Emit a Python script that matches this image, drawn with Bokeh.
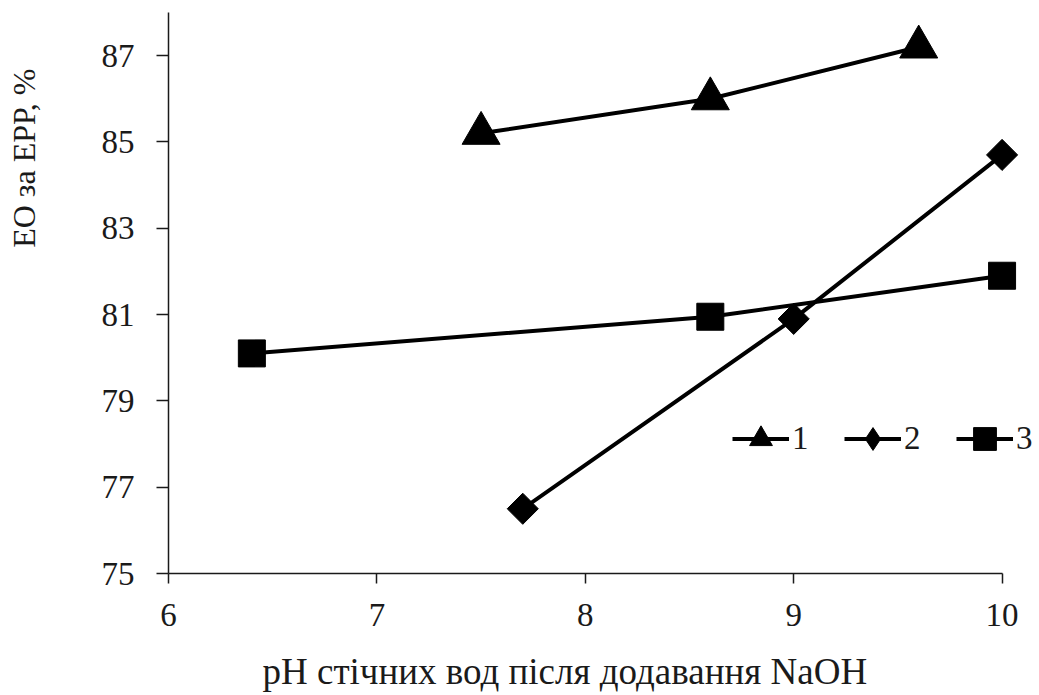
from bokeh.plotting import figure
from bokeh.models import FixedTicker, Legend, LegendItem, Range1d, Title
from bokeh.embed import file_html
from bokeh.resources import INLINE
import math

# data
x1 = [7.5, 8.6, 9.6]
y1 = [85.2, 86.0, 87.2]
x2 = [7.7, 9.0, 10.0]
y2 = [76.5, 80.9, 84.7]
x3 = [6.4, 8.6, 10.0]
y3 = [80.1, 80.95, 81.9]
series_names = ["1", "2", "3"]
x_ticks = [6, 7, 8, 9, 10]
y_ticks = [75, 77, 79, 81, 83, 85, 87]
x_title = "pH стічних вод після додавання NaOH"
y_title = "ЕО за ЕРР, %"

FONT = "Liberation Serif"
INK = "#1a1a1a"

p = figure(width=1039, height=695, output_backend="svg", toolbar_location=None,
           x_range=Range1d(6, 10.17), y_range=Range1d(75, 88),
           min_border_left=168, min_border_right=2, min_border_top=12, min_border_bottom=122)
p.outline_line_color = None
p.grid.visible = False

for ax in (p.xaxis[0], p.yaxis[0]):
    ax.axis_line_color = INK
    ax.axis_line_width = 1.5
    ax.major_tick_line_color = INK
    ax.major_tick_line_width = 1.5
    ax.minor_tick_line_color = None
    ax.major_tick_in = 0
    ax.major_label_text_font = FONT
    ax.major_label_text_font_size = "33px"
    ax.major_label_text_color = INK

p.xaxis[0].ticker = FixedTicker(ticks=x_ticks)
p.xaxis[0].bounds = (6, 10)
p.xaxis[0].major_tick_out = 10
p.xaxis[0].major_label_standoff = 20
# blank spacer label pushes the title further down
p.xaxis[0].axis_label = " "
p.xaxis[0].axis_label_text_font_size = "10px"
p.xaxis[0].axis_label_standoff = 5

p.yaxis[0].ticker = FixedTicker(ticks=y_ticks)
p.yaxis[0].major_tick_out = 12
p.yaxis[0].major_label_standoff = 22
# blank spacer label pushes the title further out to the left
p.yaxis[0].axis_label = " "
p.yaxis[0].axis_label_text_font_size = "30px"
p.yaxis[0].axis_label_standoff = 19

lw = 4
r1l = p.line(x1, y1, line_color="black", line_width=lw)
r1m = p.scatter(x1, y1, marker="triangle", size=38, fill_color="black", line_color="black")
r2l = p.line(x2, y2, line_color="black", line_width=lw)
r2legend = p.scatter(x2, y2, marker="diamond", size=18, fill_color="black", line_color="black")
r2m = p.scatter(x2, y2, marker="square", angle=math.pi / 4, size=22, fill_color="black", line_color="black")
r3l = p.line(x3, y3, line_color="black", line_width=lw)
r3m = p.scatter(x3, y3, marker="square", size=27, fill_color="black", line_color="black")

legend = Legend(items=[
    LegendItem(label=series_names[0], renderers=[r1l, r1m]),
    LegendItem(label=series_names[1], renderers=[r2l, r2legend]),
    LegendItem(label=series_names[2], renderers=[r3l, r3m]),
], location=(564, 106), orientation="horizontal")
legend.glyph_width = 57
legend.glyph_height = 57
legend.label_standoff = 3
legend.spacing = 32
legend.padding = 0
legend.margin = 0
legend.border_line_color = None
legend.background_fill_alpha = 0
legend.label_text_font = FONT
legend.label_text_font_size = "33px"
legend.label_text_color = INK
p.add_layout(legend, "center")

p.add_layout(Title(text=y_title, align="right", offset=56, standoff=4, text_font=FONT,
                   text_font_size="32px", text_font_style="normal", text_color=INK), "left")
p.add_layout(Title(text=x_title, align="left", offset=94, standoff=2, text_font=FONT,
                   text_font_size="37px", text_font_style="normal", text_color=INK), "below")

open("out.html", "w").write(file_html(p, INLINE))
